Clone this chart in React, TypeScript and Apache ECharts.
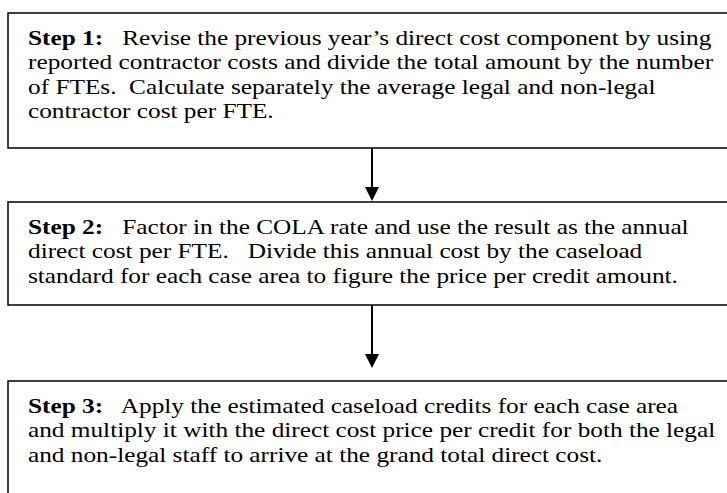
import React, { useEffect, useRef } from "react";
import * as echarts from "echarts";

const stepLabels = ["Step 1:", "Step 2:", "Step 3:"];
const step1Lines = [
  "Revise the previous year\u2019s direct cost component by using",
  "reported contractor costs and divide the total amount by the number",
  "of FTEs.  Calculate separately the average legal and non-legal",
  "contractor cost per FTE.",
];
const step2Lines = [
  "Factor in the COLA rate and use the result as the annual",
  "direct cost per FTE.   Divide this annual cost by the caseload",
  "standard for each case area to figure the price per credit amount.",
];
const step3Lines = [
  "Apply the estimated caseload credits for each case area",
  "and multiply it with the direct cost price per credit for both the legal",
  "and non-legal staff to arrive at the grand total direct cost.",
];
const stepLines = [step1Lines, step2Lines, step3Lines];

const FONT = "'Liberation Serif', 'Times New Roman', serif";

export default function App() {
  const ref = useRef<HTMLDivElement>(null);
  useEffect(() => {
    if (!ref.current) return;
    const chart = echarts.init(ref.current, null, { renderer: "svg" });
    const boxes = [
      { top: 13, bottom: 148 },
      { top: 202, bottom: 305 },
      { top: 381, bottom: 520 },
    ];
    const left = 8;
    const right = 740;
    const textX = 28;
    const fontSize = 22;
    const lineH = 24.5;
    const stretch = 1.15;
    const arrowX = 372;
    const elements: any[] = [];
    boxes.forEach((b, i) => {
      elements.push({
        type: "rect",
        shape: { x: left, y: b.top, width: right - left, height: b.bottom - b.top },
        style: { fill: "#fff", stroke: "#000", lineWidth: 1.5 },
      });
      const lines = stepLines[i];
      const rich = lines
        .map((l, j) => (j === 0 ? `{b|${stepLabels[i]}}   ${l}` : l))
        .join("\n");
      elements.push({
        type: "text",
        x: textX,
        y: b.top + 12,
        scaleX: stretch,
        style: {
          text: rich,
          font: `${fontSize}px ${FONT}`,
          fontFamily: FONT,
          fontSize,
          lineHeight: lineH,
          fill: "#000",
          textVerticalAlign: "top",
          rich: {
            b: { fontWeight: "bold", fontFamily: FONT, fontSize, lineHeight: lineH, fill: "#000" },
          },
        },
      });
    });
    const arrows = [
      { from: 148, tip: 201 },
      { from: 305, tip: 368 },
    ];
    arrows.forEach((a) => {
      elements.push({
        type: "line",
        shape: { x1: arrowX, y1: a.from, x2: arrowX, y2: a.tip - 12 },
        style: { stroke: "#000", lineWidth: 2 },
      });
      elements.push({
        type: "polygon",
        shape: {
          points: [
            [arrowX - 7, a.tip - 14],
            [arrowX + 7, a.tip - 14],
            [arrowX, a.tip],
          ],
        },
        style: { fill: "#000" },
      });
    });
    chart.setOption({
      animation: false,
      backgroundColor: "#fff",
      graphic: { elements },
    });
    return () => chart.dispose();
  }, []);
  return <div ref={ref} style={{ width: 727, height: 493, position: "absolute", left: 0, top: 0 }} />;
}
